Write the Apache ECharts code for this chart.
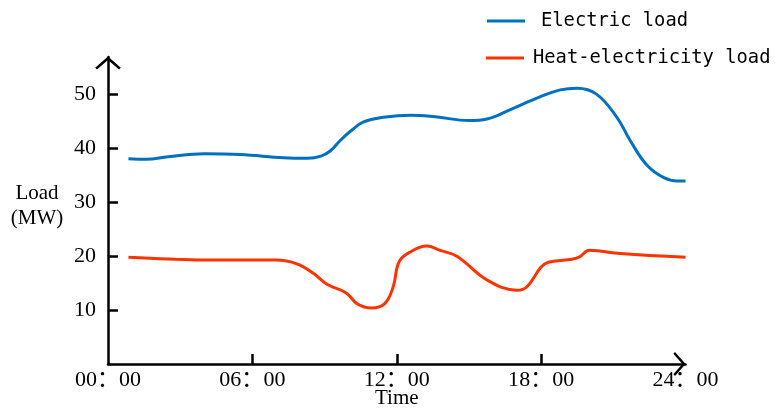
<!DOCTYPE html>
<html>
<head>
<meta charset="utf-8">
<script src="https://cdn.jsdelivr.net/npm/echarts@6/dist/echarts.min.js"></script>
<style>html,body{margin:0;padding:0;background:#fff}#c{width:775px;height:409px}</style>
</head>
<body>
<div id="c"></div>
<script>
const seriesNames = ['Electric load', 'Heat-electricity load'];
const xTickLabels = ['00：00', '06：00', '12：00', '18：00', '24：00'];
const xTickHours = [0, 6, 12, 18, 24];
const yTickValues = [10, 20, 30, 40, 50];
// [hour, MW]
const electricLoad = [[0.85,38.1],[1.6,38.0],[2.5,38.5],[4.0,39.05],[5.5,38.9],[7.3,38.3],[8.3,38.2],[8.85,38.6],[9.25,39.6],[9.65,41.5],[10.1,43.3],[10.6,44.9],[11.45,45.8],[12.6,46.2],[13.6,45.9],[15.0,45.2],[15.75,45.5],[16.7,47.2],[17.95,49.6],[18.8,50.9],[19.5,51.2],[20.3,50.1],[21.15,45.8],[21.7,41.5],[22.4,36.9],[23.1,34.6],[23.65,34.0],[24.0,34.0]];
const heatElectricityLoad = [[0.85,19.8],[2.8,19.45],[4.2,19.3],[7.0,19.3],[7.85,18.6],[8.55,16.8],[9.1,14.8],[9.9,13.2],[10.35,11.2],[10.95,10.4],[11.5,11.2],[11.85,14.3],[12.1,19.0],[12.56,20.8],[13.25,21.9],[13.8,21.1],[14.5,20.0],[15.75,15.6],[17.0,13.7],[17.4,14.3],[18.0,18.0],[18.3,18.9],[19.2,19.4],[19.6,19.9],[20.0,21.1],[21.3,20.5],[24.0,19.8]];

const arrowPath = 'path://M13,0 L26,11.5 L24.2,13.2 L13,3.5 L1.8,13.2 L0,11.5 Z';
const serifFont = 'Liberation Serif';
const tickFont = '"Liberation Serif", "Noto Sans CJK SC"';
const monoFont = 'DejaVu Sans Mono';

const chart = echarts.init(document.getElementById('c'), null, {renderer: 'canvas'});
chart.setOption({
  animation: false,
  backgroundColor: '#fff',
  grid: {left: 108, right: 89.5, top: 57, bottom: 45, containLabel: false, outerBoundsMode: 'none'},
  legend: [
    {data: [seriesNames[0]], left: 487, top: 9, padding: 0, icon: 'rect', itemWidth: 38, itemHeight: 3,
     textStyle: {fontFamily: monoFont, fontSize: 18.8, color: '#000', lineHeight: 24, padding: [0, 0, 0, 11]}},
    {data: [seriesNames[1]], left: 486, top: 46, padding: 0, icon: 'rect', itemWidth: 38, itemHeight: 3,
     textStyle: {fontFamily: monoFont, fontSize: 18.8, color: '#000', lineHeight: 24, padding: [0, 0, 0, 4]}}
  ],
  xAxis: {
    type: 'value', min: 0, max: 24, interval: 6,
    name: 'Time', nameLocation: 'middle', nameGap: 24, nameMoveOverlap: false,
    nameTextStyle: {fontFamily: serifFont, fontSize: 21, color: '#000', verticalAlign: 'top'},
    splitLine: {show: false},
    axisLine: {show: true, onZero: false, symbol: ['none', arrowPath], symbolSize: [24, 13], symbolOffset: [0, -6],
      lineStyle: {color: '#000', width: 2.5}},
    axisTick: {show: true, inside: true, length: 10, customValues: [6, 12, 18], lineStyle: {color: '#000', width: 2.5}},
    axisLabel: {show: true, margin: 5, customValues: xTickHours, fontFamily: tickFont, fontSize: 22, color: '#000',
      formatter: function (v) { return xTickLabels[xTickHours.indexOf(v)] || ''; }}
  },
  yAxis: {
    type: 'value', min: 0, max: 57,
    name: 'Load\n(MW)\n{s| }', nameLocation: 'middle', nameRotate: 0, nameGap: 71, nameMoveOverlap: false,
    nameTextStyle: {fontFamily: serifFont, fontSize: 21, color: '#000', align: 'center', verticalAlign: 'middle', lineHeight: 25,
      rich: {s: {fontSize: 1, lineHeight: 10}}},
    splitLine: {show: false},
    axisLine: {show: true, onZero: false, symbol: ['none', arrowPath], symbolSize: [26, 13], symbolOffset: [0, -6],
      lineStyle: {color: '#000', width: 2.5}},
    axisTick: {show: true, inside: true, length: 10, customValues: yTickValues, lineStyle: {color: '#000', width: 2.5}},
    axisLabel: {show: true, margin: 12, customValues: yTickValues, fontFamily: serifFont, fontSize: 22, color: '#000'}
  },
  series: [
    {name: seriesNames[0], type: 'line', data: electricLoad, smooth: 0.4, showSymbol: false, symbol: 'none',
     lineStyle: {color: '#0070C0', width: 3}, itemStyle: {color: '#0070C0'}},
    {name: seriesNames[1], type: 'line', data: heatElectricityLoad, smooth: 0.4, showSymbol: false, symbol: 'none',
     lineStyle: {color: '#FF3300', width: 3}, itemStyle: {color: '#FF3300'}}
  ]
});
</script>
</body>
</html>
